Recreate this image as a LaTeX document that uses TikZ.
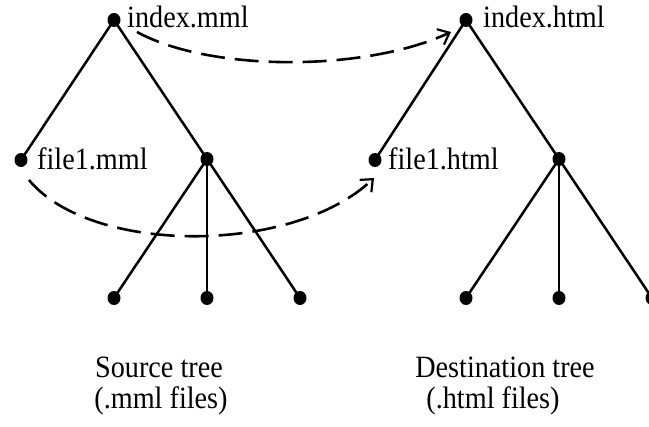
\documentclass[tikz,border=0pt]{standalone}
\usepackage{fontspec}
\setmainfont{Liberation Serif}[FakeStretch=0.91]
\usetikzlibrary{arrows.meta,shapes.geometric}
\begin{document}
\begin{tikzpicture}[x=1pt,y=-1pt,
  dot/.style={ellipse,fill=black,inner sep=0pt,minimum width=13pt,minimum height=14pt},
  edge/.style={line width=2.5pt},
  lbl/.style={inner sep=0pt,font=\fontsize{31}{35}\selectfont},
  move/.style={line width=2.6pt,dash pattern=on 24pt off 10pt,-{Straight Barb[length=10pt,width=17pt,line width=2.2pt]}}]
\useasboundingbox (0,0) rectangle (649,427);
% source tree
\node[dot] (r1) at (114,20) {};
\node[dot] (f1) at (21,160) {};
\node[dot] (n1) at (207,159) {};
\node[dot] (a1) at (114,298) {};
\node[dot] (b1) at (207,298) {};
\node[dot] (c1) at (300,298) {};
% destination tree
\node[dot] (r2) at (466,20) {};
\node[dot] (f2) at (375,160) {};
\node[dot] (n2) at (559,159) {};
\node[dot] (a2) at (466,298) {};
\node[dot] (b2) at (559,298) {};
\node[dot] (c2) at (652,298) {};
\foreach \s/\t in {r1/f1,r1/n1,n1/a1,n1/b1,n1/c1,r2/f2,r2/n2,n2/a2,n2/b2,n2/c2}
  \draw[edge] (\s.center) -- (\t.center);
% labels
\node[lbl,anchor=base west] (li1) at (127,28) {index.mml};
\node[lbl,anchor=base west] (lf1) at (37,170) {file1.mml};
\node[lbl,anchor=base west] (li2) at (483,28) {index.html};
\node[lbl,anchor=base west] (lf2) at (388,170) {file1.html};
\node[lbl,anchor=base] (s1) at (159,378) {Source tree};
\node[lbl,anchor=base] (s2) at (161,409) {(.mml files)};
\node[lbl,anchor=base] (d1) at (505,378) {Destination tree};
\node[lbl,anchor=base] (d2) at (493,409) {(.html files)};
% dashed arrows
\coordinate (m1s) at (137,32);
\coordinate (m1e) at (451,32);
\coordinate (m2s) at (29,180);
\coordinate (m2e) at (374,178);
\draw[move] (m1s) .. controls (210,72) and (365,72) .. (m1e);
\draw[move] (m2s) .. controls (91,255) and (293,255) .. (m2e);
\end{tikzpicture}
\end{document}
